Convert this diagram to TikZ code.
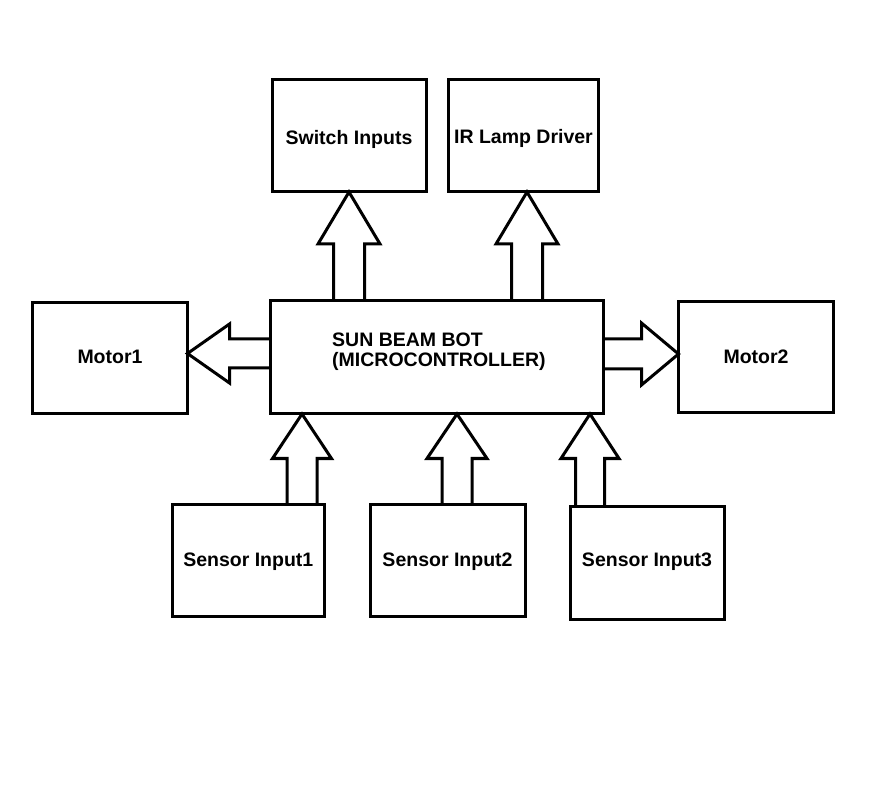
\documentclass[tikz,border=0pt]{standalone}
\usepackage{fontspec}
\setmainfont{Liberation Sans}
\usetikzlibrary{calc}
\tikzset{
  lblfont/.style={font=\bfseries\fontsize{19.5}{20}\selectfont},
  box/.style={draw, line width=3pt, rectangle, inner sep=0pt, outer sep=0pt,
    lblfont, text depth=0pt},
  blk/.style={draw, line width=3pt, line join=miter},
}
% vertical block arrow: #1 axis coord, #2 lower node, #3 upper node, #4 head length, #5 shaft half, #6 head half
\newcommand\uparw[6]{%
  \draw[blk] ($(#2.north -| #1)+(-#5,0)$) -- ($(#3.south -| #1)+(-#5,#4)$)
    -- ($(#3.south -| #1)+(-#6,#4)$) -- (#3.south -| #1)
    -- ($(#3.south -| #1)+(#6,#4)$) -- ($(#3.south -| #1)+(#5,#4)$)
    -- ($(#2.north -| #1)+(#5,0)$);}
% horizontal block arrow: #1 axis coord, #2 source anchor, #3 target anchor, #4 signed head length, #5 shaft half, #6 head half
\newcommand\harw[6]{%
  \draw[blk] ($(#2 |- #1)+(0,-#5)$) -- ($(#3 |- #1)+(#4,-#5)$)
    -- ($(#3 |- #1)+(#4,-#6)$) -- (#3 |- #1)
    -- ($(#3 |- #1)+(#4,#6)$) -- ($(#3 |- #1)+(#4,#5)$)
    -- ($(#2 |- #1)+(0,#5)$);}
\begin{document}
\begin{tikzpicture}[x=1pt,y=-1pt]
  \useasboundingbox (0,0) rectangle (895,786);
  \fill[white] (0,0) rectangle (895,786);
  % boxes
  \node[box, minimum width=154pt, minimum height=112pt, text height=18pt] (sw) at (349,136) {Switch Inputs};
  \node[box, minimum width=150pt, minimum height=112pt, text height=16pt] (ir) at (523.5,136) {IR Lamp Driver};
  \node[box, minimum width=333pt, minimum height=113pt] (mc) at (436.5,357.5) {};
  \node[lblfont, align=left, inner sep=0pt, anchor=north west]
    (mctext) at (332,333) {SUN BEAM BOT\\(MICROCONTROLLER)};
  \node[box, minimum width=155pt, minimum height=111pt, text height=11pt] (m1) at (110,358) {Motor1};
  \node[box, minimum width=155pt, minimum height=111pt, text height=12.6pt] (m2) at (756,357) {Motor2};
  \node[box, minimum width=152pt, minimum height=112pt, text height=12pt] (s1) at (248.3,560) {Sensor Input1};
  \node[box, minimum width=155pt, minimum height=112pt, text height=12pt] (s2) at (447.5,560) {Sensor Input2};
  \node[box, minimum width=154pt, minimum height=113pt, text height=7pt] (s3) at (647,562.5) {Sensor Input3};
  % arrow axes
  \coordinate (a1) at (349,0);
  \coordinate (a2) at (527,0);
  \coordinate (a3) at (302,0);
  \coordinate (a4) at (457,0);
  \coordinate (a5) at (590,0);
  \coordinate (h1) at (0,353.5);
  \coordinate (h2) at (0,354);
  % arrows
  \uparw{a1}{mc}{sw}{52}{15.5}{31}
  \uparw{a2}{mc}{ir}{52}{15.5}{31}
  \uparw{a3}{s1}{mc}{44.5}{15}{29.5}
  \uparw{a4}{s2}{mc}{44.5}{15}{30}
  \uparw{a5}{s3}{mc}{44.5}{14.5}{29}
  \harw{h1}{mc.west}{m1.east}{42}{14.5}{29.5}
  \harw{h2}{mc.east}{m2.west}{-37}{15}{31}
\end{tikzpicture}
\end{document}
